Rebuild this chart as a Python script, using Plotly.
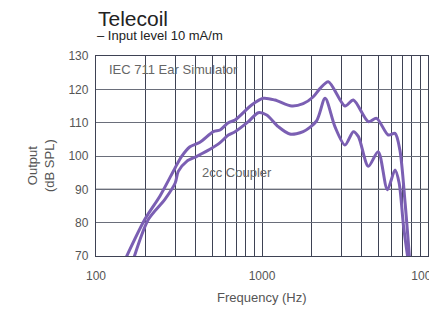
import plotly.graph_objects as go
import math

# IEC 711 Ear Simulator curve
iec_freq = [150, 197, 243, 300, 328, 368, 423, 509, 559, 627, 688, 866, 1018, 1196, 1510, 1770, 2030, 2240, 2510, 3160, 3550, 4370, 4900, 5760, 6330, 6770, 7280, 7750]
iec_spl = [69.0, 81.0, 88.0, 96.5, 99.9, 102.8, 104.1, 107.3, 107.8, 110.0, 110.8, 115.3, 117.3, 116.8, 115.0, 115.7, 117.7, 120.3, 122.3, 115.0, 116.8, 110.3, 111.3, 106.3, 106.8, 101.8, 85.9, 69.0]

# 2cc Coupler curve
cc_freq = [168, 207, 260, 300, 313, 352, 405, 486, 559, 627, 688, 827, 950, 1067, 1254, 1470, 1770, 2130, 2400, 2750, 3160, 3550, 3810, 4370, 5010, 5690, 6330, 6700, 7120, 7580]
cc_spl = [69.0, 81.0, 87.0, 91.9, 95.4, 98.4, 99.9, 102.0, 104.0, 106.3, 107.3, 110.3, 113.0, 112.3, 108.8, 106.6, 107.3, 110.5, 117.3, 108.8, 103.3, 107.3, 105.8, 96.9, 101.3, 89.9, 95.8, 91.9, 79.0, 69.0]

x_ticks = [100, 1000, 10000]
x_minor = [200, 300, 400, 500, 600, 700, 800, 900, 2000, 3000, 4000, 5000, 6000, 7000, 8000, 9000]
y_ticks = [70, 80, 90, 100, 110, 120, 130]

line_color = "#7b5fb3"
font_family = "Liberation Sans, Arial, sans-serif"
grid_dark = "#3e4254"
label_color = "#555555"

# figure sits 8px inside the page (body margin)
W, H = 429, 301
ML, MR, MT, MB = 88, 9, 48, 53
PH = H - MT - MB

fig = go.Figure()
fig.add_trace(go.Scatter(x=iec_freq, y=iec_spl, mode="lines",
                         line=dict(color=line_color, width=3, shape="spline", smoothing=0.8),
                         showlegend=False, hoverinfo="skip"))
fig.add_trace(go.Scatter(x=cc_freq, y=cc_spl, mode="lines",
                         line=dict(color=line_color, width=3, shape="spline", smoothing=0.8),
                         showlegend=False, hoverinfo="skip"))

fig.update_layout(
    width=W, height=H,
    margin=dict(l=ML, r=MR, t=MT, b=MB),
    paper_bgcolor="white", plot_bgcolor="white",
    font=dict(family=font_family, size=12, color=label_color),
    xaxis=dict(
        type="log", range=[2, 4], tickvals=x_ticks, ticktext=[str(v) for v in x_ticks],
        showgrid=True, gridcolor=grid_dark, gridwidth=1.3,
        minor=dict(tickvals=x_minor, showgrid=True, gridcolor=grid_dark, gridwidth=1.3, ticks=""),
        showline=True, linecolor=grid_dark, linewidth=1.3, mirror=True,
        ticks="", ticklabelstandoff=8, automargin=False, ticklabeloverflow="allow",
        tickfont=dict(size=12, color=label_color),
        zeroline=False,
    ),
    yaxis=dict(
        range=[70, 130], tickvals=y_ticks,
        showgrid=True, gridcolor="#6a6e7a", gridwidth=1.3,
        showline=True, linecolor=grid_dark, linewidth=1.3, mirror=True,
        ticks="", automargin=False, ticklabelstandoff=4,
        tickfont=dict(size=12, color=label_color),
        zeroline=False,
    ),
    annotations=[
        dict(text="Telecoil", xref="paper", yref="paper", x=0, y=1 + (MT - 10) / PH,
             xanchor="left", yanchor="middle", showarrow=False,
             font=dict(size=21, color="#222222", family=font_family)),
        dict(text="– Input level 10 mA/m", xref="paper", yref="paper", x=-0.002, y=1 + (MT - 28) / PH,
             xanchor="left", yanchor="middle", showarrow=False,
             font=dict(size=13, color="#222222", family=font_family)),
        dict(text="Output<br>(dB SPL)", xref="paper", yref="paper", x=(33 - ML) / 332, y=(H - MB - 158) / PH,
             xanchor="center", yanchor="middle", showarrow=False, textangle=-90,
             font=dict(size=13, color=label_color, family=font_family)),
        dict(text="Frequency (Hz)", xref="paper", yref="paper", x=0.5, y=-(289 - (H - MB)) / PH,
             xanchor="center", yanchor="middle", showarrow=False,
             font=dict(size=13, color=label_color, family=font_family)),
        dict(text="IEC 711 Ear Simulator", xref="x", yref="y", x=math.log10(116), y=126,
             xanchor="left", yanchor="middle", showarrow=False,
             font=dict(size=13, color="#666666", family=font_family)),
        dict(text="2cc Coupler", xref="x", yref="y", x=math.log10(423), y=95,
             xanchor="left", yanchor="middle", showarrow=False,
             font=dict(size=13, color="#666666", family=font_family)),
    ],
)
fig.add_shape(type="line", xref="paper", yref="y", x0=0, x1=1, y0=90, y1=90,
              line=dict(color="#1e2230", width=1.3), layer="below")

fig.write_html("out.html")
